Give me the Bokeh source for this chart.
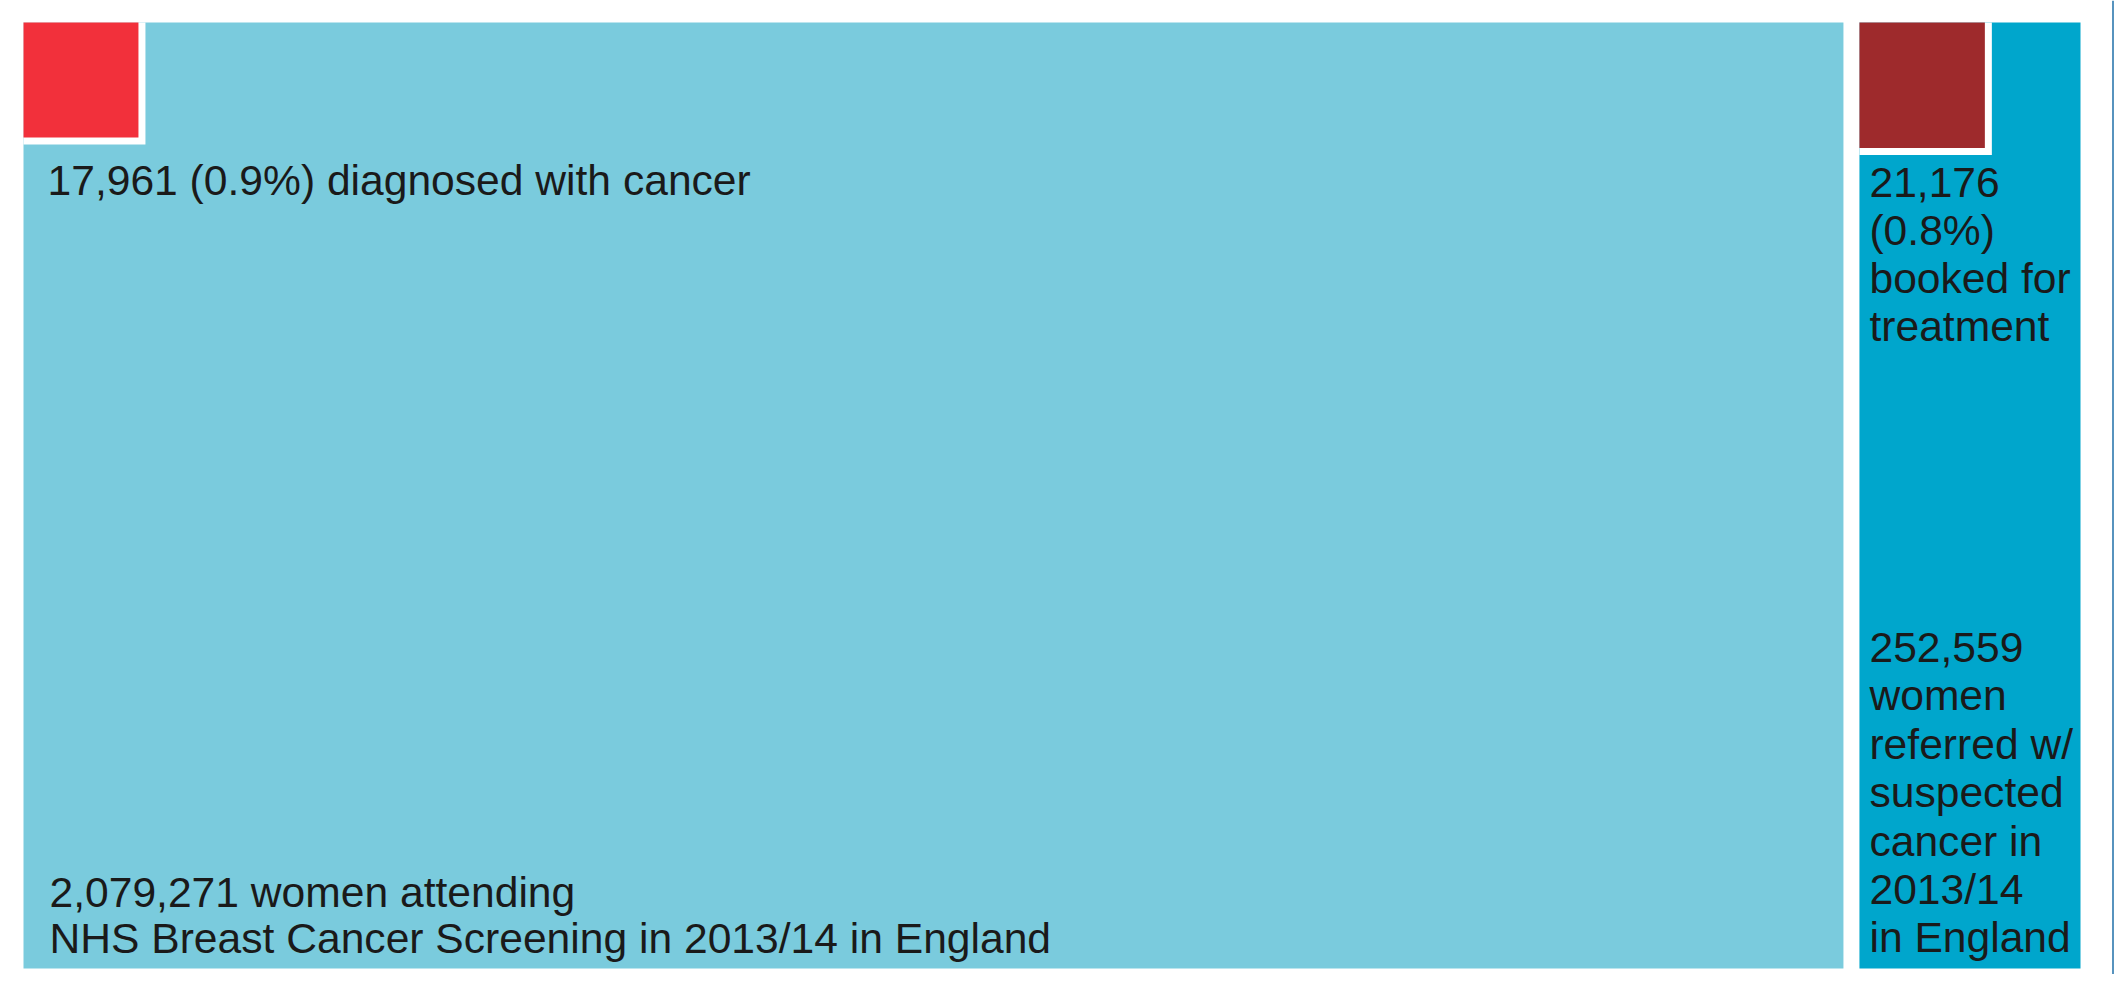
import math
from bokeh.plotting import figure
from bokeh.models import Range1d, ColumnDataSource
from bokeh.embed import file_html
from bokeh.resources import INLINE
from bokeh.core.properties import value

# ---- data ----
groups = ["Attending screening", "Referred with suspected cancer"]
totals = [2079271, 252559]
subsets = [17961, 21176]
subset_pct = ["0.9%", "0.8%"]
total_labels = [
    "{:,} women attending\nNHS Breast Cancer Screening in 2013/14 in England".format(totals[0]),
    "{:,}\nwomen\nreferred w/\nsuspected\ncancer in\n2013/14\nin England".format(totals[1]),
]
subset_labels = [
    "{:,} ({}) diagnosed with cancer".format(subsets[0], subset_pct[0]),
    "{:,}\n({})\nbooked for\ntreatment".format(subsets[1], subset_pct[1]),
]
big_colors = ["#7ACBDD", "#00A6CC"]
small_colors = ["#F2303B", "#9E2A2C"]

# ---- layout (screen-pixel data space) ----
W, H = 2118, 974
LEFT, RIGHT, TOP, BOTTOM = 23, 2080, 22, 968
GAP = 16
BORDER = 7

avail = RIGHT - LEFT - GAP * (len(totals) - 1)
grand = sum(totals)
lefts, rights = [], []
x = LEFT
for t in totals:
    w = avail * t / grand
    lefts.append(x)
    rights.append(x + w)
    x += w + GAP
height = BOTTOM - TOP

big = ColumnDataSource(dict(left=lefts, right=rights, top=[TOP] * 2, bottom=[BOTTOM] * 2, color=big_colors))

sides = [math.sqrt(s / t * (r - l) * height) for s, t, l, r in zip(subsets, totals, lefts, rights)]
white = ColumnDataSource(dict(left=lefts, right=[l + s for l, s in zip(lefts, sides)],
                              top=[TOP] * 2, bottom=[TOP + s for s in sides]))
small = ColumnDataSource(dict(left=lefts, right=[l + s - BORDER for l, s in zip(lefts, sides)],
                              top=[TOP] * 2, bottom=[TOP + s - BORDER for s in sides], color=small_colors))

p = figure(width=W, height=H, output_backend="svg", toolbar_location=None,
           x_range=Range1d(0, W), y_range=Range1d(H, 0),
           min_border=0, outline_line_color=None)
p.axis.visible = False
p.grid.visible = False

p.quad(left="left", right="right", top="top", bottom="bottom", color="color", line_color=None, source=big)
p.quad(left="left", right="right", top="top", bottom="bottom", color="white", line_color=None, source=white)
p.quad(left="left", right="right", top="top", bottom="bottom", color="color", line_color=None, source=small)

font = value("Liberation Sans")
base_kw = dict(text_font=font, text_font_size="42.6px", text_color="#1a1a1a")

# subset labels under the squares
p.text(x=[lefts[0] + 24], y=[TOP + sides[0] + 12], text=[subset_labels[0]], text_baseline="top",
       text_line_height=1.0, **base_kw)
p.text(x=[lefts[1] + 10], y=[TOP + sides[1] + 3], text=[subset_labels[1]], text_baseline="top",
       text_line_height=1.0, **base_kw)

# total labels at the bottom
p.text(x=[lefts[0] + 26], y=[BOTTOM - 6], text=[total_labels[0]], text_baseline="bottom",
       text_line_height=0.96, **base_kw)
p.text(x=[lefts[1] + 10], y=[BOTTOM - 7], text=[total_labels[1]], text_baseline="bottom",
       text_line_height=1.01, **base_kw)

# thin frame line on the right
p.segment(x0=[2112.5], y0=[0], x1=[2112.5], y1=[H], line_color="#1F6FA8", line_width=1.5)

open("out.html", "w").write(file_html(p, INLINE))
